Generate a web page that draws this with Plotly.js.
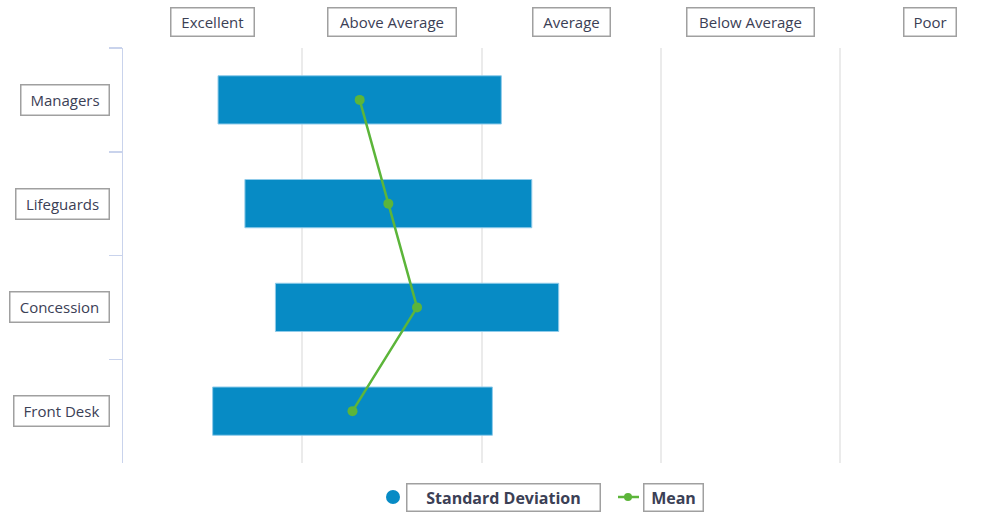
<!DOCTYPE html>
<html>
<head>
<meta charset="utf-8">
<script src="https://cdn.plot.ly/plotly-3.0.1.min.js"></script>
<style>html,body{margin:0;padding:0;background:#fff;}#chart{width:1008px;height:512px;}</style>
</head>
<body>
<div id="chart"></div>
<script>
// ---- data ----
const categories = ["Managers", "Lifeguards", "Concession", "Front Desk"];
const meanValues = [1.82, 1.98, 2.14, 1.78];
const stdDevValues = [0.79, 0.80, 0.79, 0.78];
const ratingLabels = ["Excellent", "Above Average", "Average", "Below Average", "Poor"];
const ratingPositions = [1, 2, 3, 4, 5];
const seriesNames = ["Standard Deviation", "Mean"];

// ---- style ----
const W = 1008, H = 512;
const M = {l: 123, r: 0, t: 48, b: 49};
const PW = W - M.l - M.r, PH = H - M.t - M.b;
const px2x = p => (p - M.l) / PW;
const py2y = p => (H - M.b - p) / PH;
const blue = "#078bc5", green = "#5cb53a";
const textColor = "#3b4055", boxBorder = "#a0a0a0";
const FONT = "Open Sans, Noto Sans, sans-serif";

const cv = document.createElement("canvas").getContext("2d");
function tw(s, size, bold) { cv.font = (bold ? "bold " : "") + size + "px 'Open Sans'"; return cv.measureText(s).width; }

const bars = {
  type: "bar", orientation: "h",
  y: categories,
  x: stdDevValues.map(s => 2 * s),
  base: meanValues.map((m, i) => m - stdDevValues[i]),
  width: 0.465,
  marker: {color: blue, line: {color: "#8fcbea", width: 1}},
  name: seriesNames[0], hoverinfo: "skip"
};
const means = {
  type: "scatter", mode: "lines+markers",
  y: categories, x: meanValues,
  line: {color: green, width: 2.5},
  marker: {color: green, size: 10},
  name: seriesNames[1]
};

const annotations = [];
ratingLabels.forEach((lab, i) => {
  annotations.push({
    text: lab, x: ratingPositions[i], xref: "x", y: py2y(22), yref: "paper",
    xanchor: "center", yanchor: "middle", showarrow: false,
    font: {family: FONT, size: 15, color: textColor},
    bordercolor: boxBorder, borderwidth: 1.5, borderpad: 3,
    width: Math.round(tw(lab, 15) * 1.08 + 9), height: 21
  });
});
categories.forEach(cat => {
  annotations.push({
    text: cat, x: px2x(110), xref: "paper", y: cat, yref: "y",
    xanchor: "right", yanchor: "middle", showarrow: false,
    font: {family: FONT, size: 15, color: textColor},
    bordercolor: boxBorder, borderwidth: 1.5, borderpad: 3,
    width: Math.round(tw(cat, 15) * 1.06 + 8), height: 23
  });
});
// legend labels
annotations.push({
  text: "<b>" + seriesNames[0] + "</b>", x: px2x(406), xref: "paper", y: py2y(497), yref: "paper",
  xanchor: "left", yanchor: "middle", showarrow: false,
  font: {family: FONT, size: 16, color: textColor},
  bordercolor: boxBorder, borderwidth: 1.5, borderpad: 3,
  width: 186, height: 20
});
annotations.push({
  text: "<b>" + seriesNames[1] + "</b>", x: px2x(643), xref: "paper", y: py2y(497), yref: "paper",
  xanchor: "left", yanchor: "middle", showarrow: false,
  font: {family: FONT, size: 16, color: textColor},
  bordercolor: boxBorder, borderwidth: 1.5, borderpad: 3,
  width: 52, height: 20
});

const shapes = [
  {type: "circle", xref: "paper", yref: "paper", x0: px2x(386), x1: px2x(400), y0: py2y(490), y1: py2y(504),
   fillcolor: blue, line: {width: 0}},
  {type: "line", xref: "paper", yref: "paper", x0: px2x(618), x1: px2x(639), y0: py2y(497), y1: py2y(497),
   line: {color: green, width: 2.5}},
  {type: "circle", xref: "paper", yref: "paper", x0: px2x(624), x1: px2x(632), y0: py2y(493), y1: py2y(501),
   fillcolor: green, line: {width: 0}}
];

const layout = {
  width: W, height: H, margin: M,
  paper_bgcolor: "#fff", plot_bgcolor: "#fff",
  showlegend: false,
  xaxis: {range: [0.5, 0.5 + PW / 179.3], tickvals: [1.5, 2.5, 3.5, 4.5], showticklabels: false,
          showgrid: true, gridcolor: "#ebebeb", gridwidth: 2, zeroline: false, showline: false, ticks: ""},
  yaxis: {type: "category", categoryorder: "array", categoryarray: categories, range: [3.5, -0.5],
          showticklabels: false, showgrid: false, zeroline: false,
          showline: true, linecolor: "#c9d3ec", linewidth: 1.5,
          ticks: "outside", tickson: "boundaries", ticklen: 13, tickcolor: "#c9d3ec", tickwidth: 1.5},
  annotations: annotations, shapes: shapes,
  font: {family: FONT}
};

Plotly.newPlot("chart", [bars, means], layout, {staticPlot: true, displayModeBar: false});
</script>
</body>
</html>
